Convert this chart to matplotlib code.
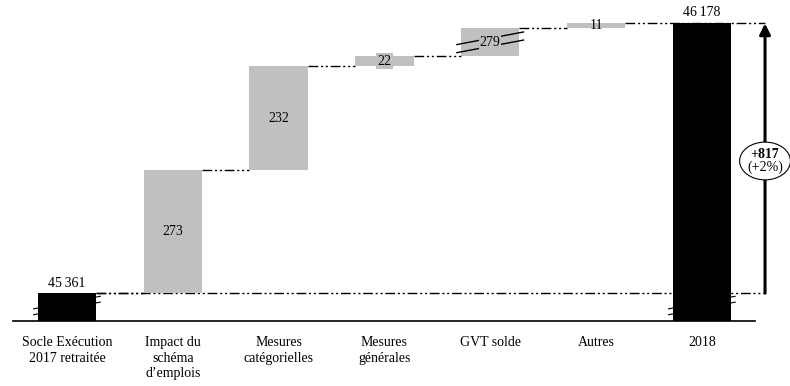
import matplotlib.pyplot as plt
from matplotlib.patches import Ellipse

plt.rcParams['font.family'] = ['Liberation Serif', 'DejaVu Serif']

categories = ["Socle Exécution\n2017 retraitée", "Impact du\nschéma\nd\u2019emplois",
              "Mesures\ncatégorielles", "Mesures\ngénérales", "GVT solde", "Autres", "2018"]
start_value = 45361
end_value = 46178
deltas = [273, 232, 22, 279, 11]
change_label = "+817"
change_pct = "(+2%)"

# GVT bar is drawn with a broken (compressed) height
broken_index = 3
broken_height = 62
# empty part of the axis under the first bar (broken too)
base_gap = 62

GRAY = '#C0C0C0'
BAR_W = 0.55
DASH = (0, (7, 2, 1.5, 2, 1.5, 2))


def fmt(v):
    s = f"{v:,}".replace(",", "\u2009")
    return s


fig = plt.figure(figsize=(7.9, 3.86), dpi=100)
ax = fig.add_axes([13 / 790, 65 / 386, 777 / 790, 321 / 386])

bottom = start_value - base_gap
px = 0.4495  # pixels per unit
ax.set_ylim(bottom, bottom + 321 / px)
ax.set_xlim(-0.51, 6.833)

# first bar
ax.bar(0, start_value - bottom, bottom=bottom, width=BAR_W, color='black', zorder=3)
ax.text(0, start_value + 22, fmt(start_value), ha='center', va='center', fontsize=10)

level = start_value
for i, d in enumerate(deltas):
    h = broken_height if i == broken_index else d
    x = i + 1
    ax.bar(x, h, bottom=level, width=BAR_W, color=GRAY, zorder=3)
    # connector from previous bar
    ax.plot([x - 1 + BAR_W / 2, x - BAR_W / 2], [level, level], color='black', lw=1,
            linestyle=DASH, zorder=2)
    mid = level + h / 2
    if i == broken_index:
        for off in (-9, 9):
            ax.plot([x - BAR_W / 2 - 0.04, x + BAR_W / 2 + 0.04],
                    [mid + off - 14, mid + off + 14], color='black', lw=1, zorder=4)
        ax.text(x, mid, str(d), ha='center', va='center', fontsize=10, zorder=5,
                bbox=dict(boxstyle='square,pad=0.05', fc=GRAY, ec='none'))
    elif 15 < d < 30:
        ax.text(x, mid, str(d), ha='center', va='center', fontsize=10, zorder=5,
                bbox=dict(boxstyle='square,pad=0.1', fc=GRAY, ec='none'))
    else:
        ax.text(x, mid, str(d), ha='center', va='center', fontsize=10, zorder=5)
    level += h

top = level
last = len(categories) - 1
ax.bar(last, top - bottom, bottom=bottom, width=BAR_W, color='black', zorder=3)
ax.text(last, top + 24, fmt(end_value), ha='center', va='center', fontsize=10)

arrow_x = 6.597
# reference lines
ax.plot([BAR_W / 2, arrow_x], [start_value, start_value], color='black', lw=1,
        linestyle=DASH, zorder=2)
ax.plot([last - 1 + BAR_W / 2, arrow_x], [top, top], color='black', lw=1,
        linestyle=DASH, zorder=2)

# break marks on the black bars
for bx in (0, last):
    for off in (0, 13):
        ax.plot([bx - BAR_W / 2 - 0.04, bx + BAR_W / 2 + 0.04],
                [start_value - 48 + off, start_value - 20 + off],
                color='black', lw=0.8, zorder=2)

# arrow with total change
ax.annotate('', xy=(arrow_x, top), xytext=(arrow_x, start_value),
            arrowprops=dict(arrowstyle='-|>', color='black', lw=2.2, mutation_scale=16,
                            shrinkA=0, shrinkB=0), zorder=4)
mid = (start_value + top) / 2 - 6
ax.add_patch(Ellipse((arrow_x, mid), width=0.48, height=84, fc='white', ec='black',
                     lw=0.8, zorder=5))
ax.text(arrow_x, mid + 15, change_label, ha='center', va='center', fontsize=10,
        fontweight='bold', zorder=6)
ax.text(arrow_x, mid - 14, change_pct, ha='center', va='center', fontsize=10, zorder=6)

ax.set_xticks(range(len(categories)))
ax.set_xticklabels(categories, fontsize=10, linespacing=1.25)
ax.tick_params(axis='x', length=0, pad=11)
ax.set_yticks([])
for s in ('top', 'right', 'left'):
    ax.spines[s].set_visible(False)
ax.spines['bottom'].set_bounds(-0.51, 6.5)
ax.spines['bottom'].set_linewidth(1.2)

fig.savefig('out.png', dpi=100)
